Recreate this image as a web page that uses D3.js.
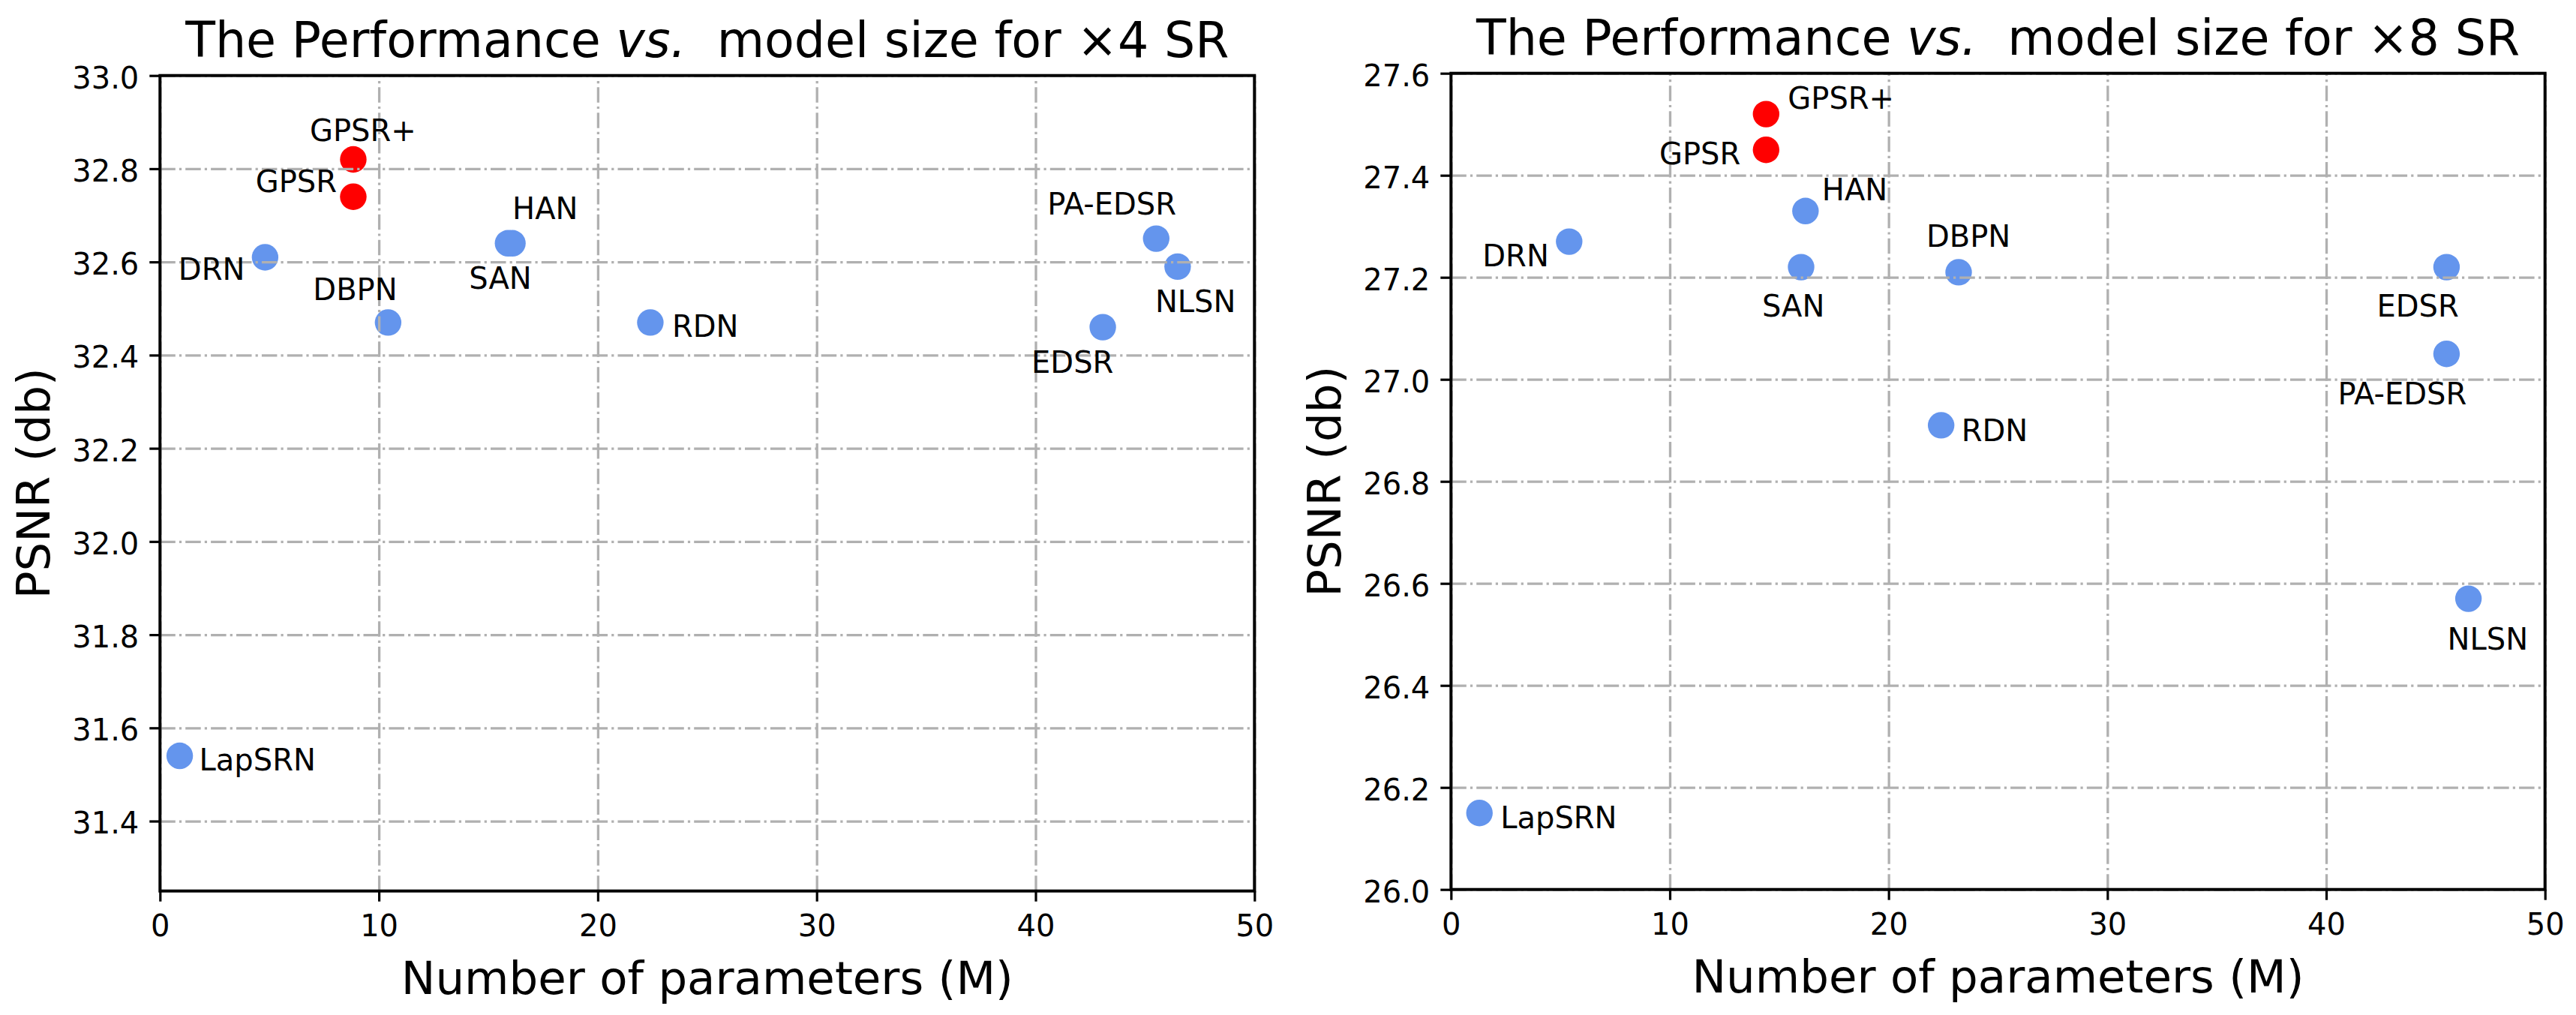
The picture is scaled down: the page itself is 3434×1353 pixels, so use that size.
<!DOCTYPE html>
<html>
<head>
<meta charset="utf-8">
<script src="https://cdn.jsdelivr.net/npm/d3@7"></script>
<style>
  body { margin: 0; background: #fff; }
  svg { display: block; font-family: "DejaVu Sans", sans-serif; }
</style>
</head>
<body>
<div id="chart"></div>
<script>
// data
const ourModels = ["GPSR+", "GPSR"];
const xTicks = [0, 10, 20, 30, 40, 50];

const x4Models = ["GPSR+", "GPSR", "DRN", "DBPN", "SAN", "HAN", "RDN", "EDSR", "PA-EDSR", "NLSN", "LapSRN"];
const x4Params = [8.83, 8.83, 4.8, 10.42, 15.9, 16.1, 22.4, 43.07, 45.51, 46.49, 0.9];
const x4Psnr   = [32.82, 32.74, 32.61, 32.47, 32.64, 32.64, 32.47, 32.46, 32.65, 32.59, 31.54];
const x4Ticks  = [31.4, 31.6, 31.8, 32.0, 32.2, 32.4, 32.6, 32.8, 33.0];

const x8Models = ["GPSR+", "GPSR", "DRN", "DBPN", "SAN", "HAN", "RDN", "EDSR", "PA-EDSR", "NLSN", "LapSRN"];
const x8Params = [14.4, 14.4, 5.4, 23.2, 16.0, 16.2, 22.4, 45.5, 45.5, 46.5, 1.3];
const x8Psnr   = [27.52, 27.45, 27.27, 27.21, 27.22, 27.33, 26.91, 27.22, 27.05, 26.57, 26.15];
const x8Ticks  = [26.0, 26.2, 26.4, 26.6, 26.8, 27.0, 27.2, 27.4, 27.6];

// label placement (pixel offset from the marker, text anchor)
const x4LabelPos = {
  "GPSR+": [-58, -24, "start"], "GPSR": [-22, -6, "end"], "DRN": [-27, 30, "end"],
  "DBPN": [-100, -30, "start"], "SAN": [-52, 61, "start"], "HAN": [0, -32, "start"],
  "RDN": [29, 19, "start"], "EDSR": [-95, 61, "start"], "PA-EDSR": [-145, -32, "start"],
  "NLSN": [-30, 61, "start"], "LapSRN": [26, 19, "start"]
};
const x8LabelPos = {
  "GPSR+": [29, -7, "start"], "GPSR": [-34, 19, "end"], "DRN": [-27, 33, "end"],
  "DBPN": [-43, -34, "start"], "SAN": [-52, 66, "start"], "HAN": [22, -14, "start"],
  "RDN": [27, 21, "start"], "EDSR": [-93, 66, "start"], "PA-EDSR": [-145, 67, "start"],
  "NLSN": [-28, 68, "start"], "LapSRN": [28, 20, "start"]
};

const W = 3434, H = 1353;
const svg = d3.select("#chart").append("svg").attr("width", W).attr("height", H);

drawPanel({ x0: 213.3, x1: 1672.3, y0: 100.7, y1: 1187.7 }, "×4",
  x4Models, x4Params, x4Psnr, x4Ticks, [31.25, 33.0], x4LabelPos);
drawPanel({ x0: 1934.3, x1: 3392.7, y0: 97.7, y1: 1185.7 }, "×8",
  x8Models, x8Params, x8Psnr, x8Ticks, [26.0, 27.6], x8LabelPos);

function drawPanel(box, scaleTxt, models, params, psnr, yTicks, yDomain, labelPos) {
  const width = box.x1 - box.x0;
  const height = box.y1 - box.y0;
  const g = svg.append("g").attr("transform", `translate(${box.x0},${box.y0})`);

  const x = d3.scaleLinear().domain([0, 50]).range([0, width]);
  const y = d3.scaleLinear().domain(yDomain).range([height, 0]);

  const data = models.map((m, i) => ({ name: m, p: params[i], v: psnr[i] }));

  // points (below the grid, like matplotlib's default zorder)
  g.selectAll(".pt")
    .data(data)
    .join("circle")
    .attr("class", "pt")
    .attr("cx", d => x(d.p))
    .attr("cy", d => y(d.v))
    .attr("r", 17.7)
    .attr("fill", d => ourModels.includes(d.name) ? "#ff0000" : "#6495ed");

  // grid
  const gridY = g.append("g")
    .call(d3.axisLeft(y).tickValues(yTicks).tickSize(-width).tickFormat(""));
  const gridX = g.append("g")
    .attr("transform", `translate(0,${height})`)
    .call(d3.axisBottom(x).tickValues(xTicks).tickSize(-height).tickFormat(""));
  [gridX, gridY].forEach(gr => {
    gr.select(".domain").remove();
    gr.selectAll("line")
      .attr("stroke", "#b0b0b0")
      .attr("stroke-width", 3.3)
      .attr("stroke-dasharray", "20.5,5.1,3.2,5.1");
  });

  // spines
  g.append("rect")
    .attr("width", width).attr("height", height)
    .attr("fill", "none").attr("stroke", "#000").attr("stroke-width", 4);

  // axes
  const ax = g.append("g")
    .call(d3.axisLeft(y).tickValues(yTicks).tickSize(14).tickPadding(14).tickFormat(d3.format(".1f")));
  const bx = g.append("g")
    .attr("transform", `translate(0,${height})`)
    .call(d3.axisBottom(x).tickValues(xTicks).tickSize(14).tickPadding(14).tickFormat(d3.format("d")));
  [ax, bx].forEach(a => {
    a.select(".domain").remove();
    a.selectAll("line").attr("stroke", "#000").attr("stroke-width", 3.2);
    a.selectAll("text").attr("fill", "#000")
      .style("font-size", "40px").style("font-family", "DejaVu Sans");
  });
  ax.selectAll("text").attr("dy", "0.41em");
  bx.selectAll("text").attr("dy", "0.8em");

  // point labels
  g.selectAll(".lbl")
    .data(data)
    .join("text")
    .attr("class", "lbl")
    .attr("x", d => x(d.p) + labelPos[d.name][0])
    .attr("y", d => y(d.v) + labelPos[d.name][1])
    .attr("text-anchor", d => labelPos[d.name][2])
    .style("font-size", "40px")
    .text(d => d.name);

  // titles
  const t = g.append("text")
    .attr("x", width / 2)
    .attr("y", -24.7)
    .attr("text-anchor", "middle")
    .style("font-size", "65px")
    .style("white-space", "pre");
  t.append("tspan").text("The Performance ");
  t.append("tspan").style("font-style", "italic").text("vs.");
  t.append("tspan").text("  model size for " + scaleTxt + " SR");

  g.append("text")
    .attr("x", width / 2)
    .attr("y", height + 137)
    .attr("text-anchor", "middle")
    .style("font-size", "61px")
    .text("Number of parameters (M)");

  g.append("text")
    .attr("transform", `translate(-147.6,${height / 2}) rotate(-90)`)
    .attr("text-anchor", "middle")
    .style("font-size", "61px")
    .text("PSNR (db)");
}
</script>
</body>
</html>
